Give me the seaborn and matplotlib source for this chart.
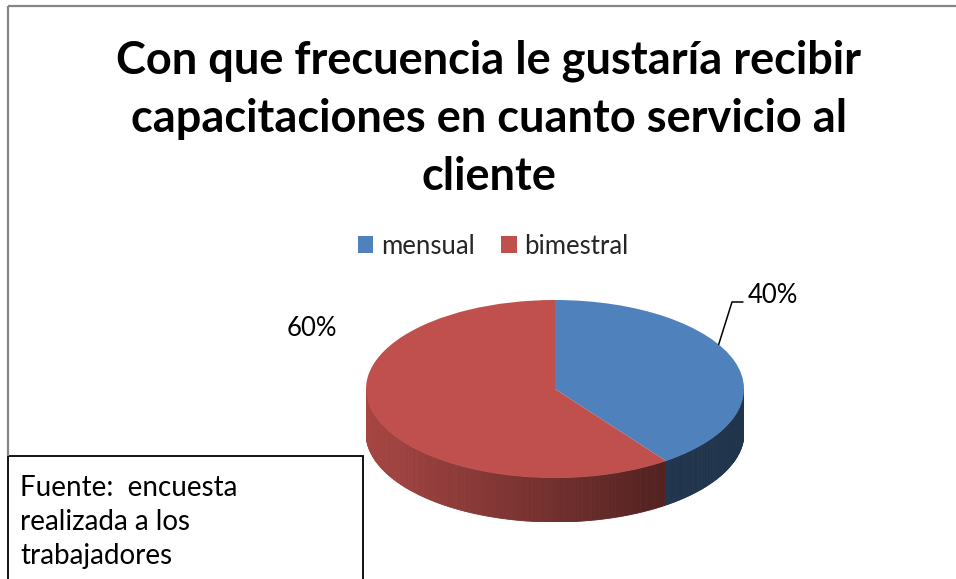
import numpy as np
import matplotlib.pyplot as plt
import seaborn as sns
from matplotlib.collections import PolyCollection
from matplotlib.patches import Rectangle

# Data
categories = ["mensual", "bimestral"]
shares = [40, 60]
pct_labels = ["40%", "60%"]
title_lines = ["Con que frecuencia le gustaría recibir",
               "capacitaciones en cuanto servicio al",
               "cliente"]
source_lines = ["Fuente:  encuesta", "realizada a los", "trabajadores"]

sns.set_theme(style="white")
plt.rcParams["font.family"] = ["Lato", "DejaVu Sans"]
palette = sns.color_palette(["#4f81bd", "#c0504d"])

W, H = 956, 579
fig = plt.figure(figsize=(W / 100, H / 100), dpi=100)

# pie axes: unit circle drawn as a flat ellipse, with room for the side wall
rx, ry, depth_px = 189, 89, 44
cx, cy = 555, 389
ax = fig.add_axes([(cx - rx) / W, (H - (cy + ry + depth_px)) / H,
                   2 * rx / W, (2 * ry + depth_px) / H])
depth = depth_px / ry

wedges, _ = ax.pie(shares, colors=palette, startangle=90, counterclock=False,
                   wedgeprops=dict(linewidth=0, zorder=2))
ax.set_aspect("auto")
ax.set_xlim(-1, 1)
ax.set_ylim(-1 - depth, 1)
ax.axis("off")

# side wall of the "3d" pie, shaded darker to the right
fracs = np.array(shares) / sum(shares)
ends = np.cumsum(fracs) * 360
theta = np.linspace(np.pi, 2 * np.pi, 241)
polys, cols = [], []
for t0, t1 in zip(theta[:-1], theta[1:]):
    tm = (t0 + t1) / 2
    k = min(np.searchsorted(ends, (90 - np.degrees(tm)) % 360), len(shares) - 1)
    shade = 0.87 - 0.47 * np.clip((np.cos(tm) + 1) / 1.67, 0, 1)
    c = tuple(np.array(palette[k]) * shade)
    cols.append(c)
    polys.append([(np.cos(t0), np.sin(t0)), (np.cos(t1), np.sin(t1)),
                  (np.cos(t1), np.sin(t1) - depth), (np.cos(t0), np.sin(t0) - depth)])
ax.add_collection(PolyCollection(polys, facecolors=cols, edgecolors=cols,
                                 linewidths=0.6, zorder=1))

# overlay in pixel coordinates for texts and frames
ov = fig.add_axes([0, 0, 1, 1], zorder=3)
ov.set_xlim(0, W)
ov.set_ylim(H, 0)
ov.axis("off")

# chart frame (top and left visible)
ov.plot([8, W], [6, 6], color="#868686", lw=1.6, solid_capstyle="butt")
ov.plot([8, 8], [6, 456], color="#868686", lw=1.6, solid_capstyle="butt")

for i, line in enumerate(title_lines):
    ov.text(489, 74 + i * 58, line, ha="center", va="baseline",
            fontsize=32.5, fontweight="bold", color="black")

fig.legend(wedges, categories, loc="center", bbox_to_anchor=(493 / W, 1 - 246 / H),
           ncol=2, frameon=False, fontsize=18.5, handlelength=0.62, handleheight=0.62,
           handletextpad=0.3, columnspacing=1.0)

# data labels
ov.text(748, 303, pct_labels[0], ha="left", va="baseline", fontsize=18.5, color="black")
ov.text(287, 336, pct_labels[1], ha="left", va="baseline", fontsize=18.5, color="black")
a = np.radians(30)
ov.plot([cx + rx * np.cos(a), 732, 743], [cy - ry * np.sin(a), 302, 302],
        color="black", lw=1.1)

# source note box
ov.add_patch(Rectangle((8, 456), 355, 140, facecolor="white", edgecolor="black", lw=1.3))
for i, line in enumerate(source_lines):
    ov.text(20, 496 + i * 34, line, ha="left", va="baseline", fontsize=20, color="black")

fig.savefig("out.png", dpi=100)
